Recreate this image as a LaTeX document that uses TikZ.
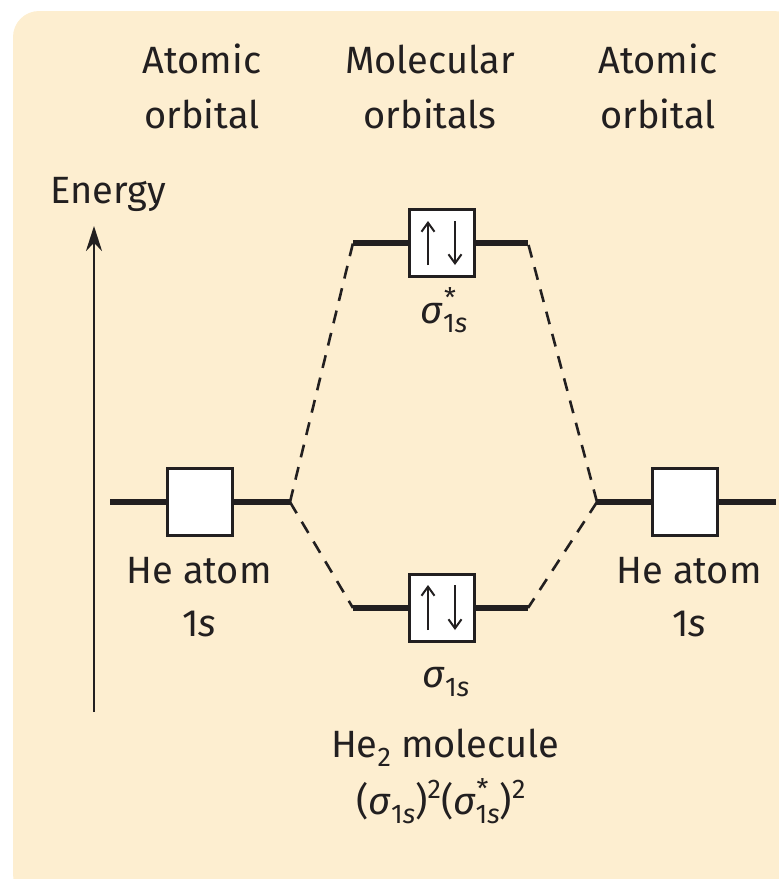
\documentclass[tikz,border=0pt]{standalone}
\usepackage{fontspec}
\setmainfont{Fira Sans}
\usetikzlibrary{arrows.meta}
\definecolor{bgpeach}{RGB}{253,238,208}
\definecolor{ink}{RGB}{34,31,32}
\newcommand{\smallsz}{\fontsize{27}{27}\selectfont}
\newcommand{\onesub}{\raisebox{-9pt}{\smallsz\upshape 1\itshape s}}
\newcommand{\starsup}{\raisebox{16pt}{\smallsz\upshape *}}
\newcommand{\twosup}{\raisebox{16pt}{\smallsz\upshape 2}}
\newcommand{\sigstar}{\textit{σ}\rlap{\hspace{1pt}\starsup}\onesub}
\newcommand{\sigplain}{\textit{σ}\onesub}
\tikzset{
  txt/.style={anchor=base, inner sep=0pt, text=ink, font=\fontsize{38}{46}\selectfont},
  obox/.style={draw=ink, line width=3pt, fill=white, minimum width=65pt, minimum height=67pt, inner sep=0pt},
  levelline/.style={draw=ink, line width=5.5pt},
  dashconn/.style={draw=ink, line width=2.6pt, dash pattern=on 13pt off 10pt},
  spin/.style={draw=ink, line width=2pt, -{Straight Barb[length=9pt,width=13pt,line width=2pt]}},
  energyarrow/.style={draw=ink, line width=2.6pt, -{Stealth[length=25pt,width=16pt]}}
}
\begin{document}
\begin{tikzpicture}[x=1pt,y=-1pt]
\useasboundingbox (0,0) rectangle (779,879);
\fill[bgpeach, rounded corners=26pt] (13,11) rectangle (800,900);

% headers
\node[txt] (hL1) at (202,73) {Atomic};
\node[txt] (hL2) at (202,128) {orbital};
\node[txt] (hM1) at (430,73) {Molecular};
\node[txt] (hM2) at (430,128) {orbitals};
\node[txt] (hR1) at (658,73) {Atomic};
\node[txt] (hR2) at (658,128) {orbital};
\node[txt, anchor=base west] (energy) at (50,203) {Energy};

% energy axis
\coordinate (eBot) at (94,712);
\coordinate (eTop) at (94,226);
\draw[energyarrow] (eBot) -- (eTop);

% atomic orbitals
\node[obox] (aoL) at (199.5,502) {};
\coordinate (aoLl) at (110,502);
\coordinate (aoLr) at (290,502);
\draw[levelline] (aoLl) -- (aoL.west);
\draw[levelline] (aoL.east) -- (aoLr);

\node[obox] (aoR) at (684.5,502) {};
\coordinate (aoRl) at (597,502);
\coordinate (aoRr) at (776,502);
\draw[levelline] (aoRl) -- (aoR.west);
\draw[levelline] (aoR.east) -- (aoRr);

% antibonding MO
\node[obox] (msb) at (442,243) {};
\coordinate (msbl) at (353,243);
\coordinate (msbr) at (528,243);
\draw[levelline] (msbl) -- (msb.west);
\draw[levelline] (msb.east) -- (msbr);

% bonding MO
\node[obox] (mb) at (442,608) {};
\coordinate (mbl) at (353,608);
\coordinate (mbr) at (528,608);
\draw[levelline] (mbl) -- (mb.west);
\draw[levelline] (mb.east) -- (mbr);

% spins
\coordinate (s1a) at (428,265); \coordinate (s1b) at (428,221);
\coordinate (s2a) at (455,221); \coordinate (s2b) at (455,265);
\draw[spin] (s1a) -- (s1b);
\draw[spin] (s2a) -- (s2b);
\coordinate (s3a) at (428,630); \coordinate (s3b) at (428,585);
\coordinate (s4a) at (455,585); \coordinate (s4b) at (455,630);
\draw[spin] (s3a) -- (s3b);
\draw[spin] (s4a) -- (s4b);

% correlation lines
\draw[dashconn] (aoLr) -- (msbl);
\draw[dashconn] (aoLr) -- (mbl);
\draw[dashconn] (aoRl) -- (msbr);
\draw[dashconn] (aoRl) -- (mbr);

% labels
\node[txt] (lblL1) at (199,583) {He atom};
\node[txt] (lblL2) at (199,636) {1\textit{s}};
\node[txt] (lblR1) at (689,583) {He atom};
\node[txt] (lblR2) at (689,636) {1\textit{s}};
\node[txt] (lblSs) at (444,323) {\sigstar};
\node[txt] (lblS) at (446,687) {\sigplain};
\node[txt] (mol1) at (445,757) {He\raisebox{-9pt}{\smallsz 2} molecule};
\node[txt] (mol2) at (441,814) {(\sigplain)\twosup(\sigstar)\twosup};
\end{tikzpicture}
\end{document}
